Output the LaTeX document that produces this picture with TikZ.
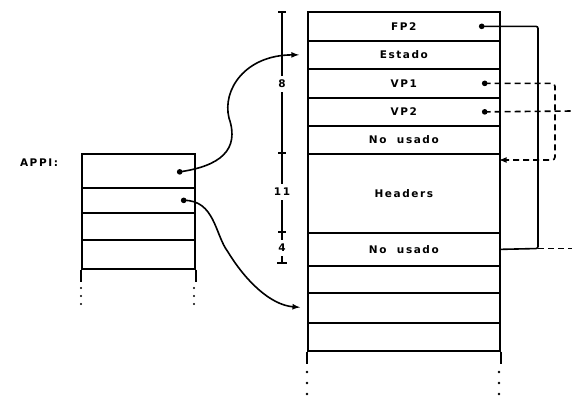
\documentclass[tikz,border=0pt]{standalone}
\usepackage{fontspec}
\newfontfamily\slotfont[LetterSpace=15]{DejaVu Sans Bold}
\tikzset{
  slot/.style={draw, line width=1.7pt, anchor=north west, inner sep=0pt,
    font=\slotfont\fontsize{10.5}{11}\selectfont},
  bigslot/.style={slot, minimum width=192pt},
  smallslot/.style={slot, minimum width=113pt},
  ptr/.style={circle, fill, inner sep=2pt},
  link/.style={line width=1.6pt},
  dashlink/.style={line width=1.6pt, dash pattern=on 6pt off 4pt},
  dimlabel/.style={inner sep=4pt, font=\slotfont\fontsize{10.5}{11}\selectfont},
}
\begin{document}
\begin{tikzpicture}[>=latex, x=1pt, y=-1pt]
    \useasboundingbox (0,0) rectangle (572,402);

    % Pila grande
    \node[bigslot, minimum height=29pt] (fp2) at (307,11) {FP2};
    \node[bigslot, minimum height=28pt] (estado) at (307,40) {Estado};
    \node[bigslot, minimum height=29pt] (vp1) at (307,68) {VP1};
    \node[bigslot, minimum height=28pt] (vp2) at (307,97) {VP2};
    \node[bigslot, minimum height=28pt] (nousadoA) at (307,125) {No\ \ usado};
    \node[bigslot, minimum height=79pt] (headers) at (307,153) {Headers};
    \node[bigslot, minimum height=33pt] (nousadoB) at (307,232) {No\ \ usado};
    \node[bigslot, minimum height=27pt] (libreA) at (307,265) {};
    \node[bigslot, minimum height=30pt] (libreB) at (307,292) {};
    \node[bigslot, minimum height=28pt] (libreC) at (307,322) {};
    \draw[line width=1.7pt] (libreC.south west) -- ++(0,12);
    \draw[line width=1.7pt] (libreC.south east) -- ++(0,12);
    \foreach \y in {372,383,394} {
        \fill (307,\y) circle (1.3pt);
        \fill (499,\y) circle (1.3pt);
    }

    % Pila APPI
    \node[dimlabel] (appi) at (39,163) {APPI:};
    \node[smallslot, minimum height=34pt] (appiA) at (81,153) {};
    \node[smallslot, minimum height=25pt] (appiB) at (81,187) {};
    \node[smallslot, minimum height=27pt] (appiC) at (81,212) {};
    \node[smallslot, minimum height=29pt] (appiD) at (81,239) {};
    \draw[line width=1.7pt] (appiD.south west) -- ++(0,12);
    \draw[line width=1.7pt] (appiD.south east) -- ++(0,12);
    \foreach \y in {288,296,304} {
        \fill (81,\y) circle (1.1pt);
        \fill (194,\y) circle (1.1pt);
    }

    % Punteros
    \node[ptr] (fp2p) at ([xshift=-19pt]fp2.east) {};
    \node[ptr] (vp1p) at ([xshift=-16pt]vp1.east) {};
    \node[ptr] (vp2p) at ([xshift=-16pt]vp2.east) {};
    \node[ptr] (appiAp) at ([xshift=-16pt, yshift=-1pt]appiA.east) {};
    \node[ptr] (appiBp) at ([xshift=-12pt]appiB.east) {};

    \coordinate (fpturn) at (538,248.5);
    \coordinate (fpout) at (572,248.5);
    \coordinate (vpturn) at (555,160);
    \coordinate (vp1in) at (499,160);
    \coordinate (vp2out) at (572,111);

    \draw[link, rounded corners=2pt] (fp2p.center) -| (fpturn) -- (nousadoB.east);
    \draw[dashlink] (fpturn) -- (fpout);
    \draw[dashlink, ->, rounded corners=3pt] (vp1p.center) -| (vpturn) -- (vp1in);
    \draw[dashlink] (vp2p.center) -- (vp2out);

    % Flechas curvas
    \draw[link, ->, shorten >=8pt] (appiAp.center)
        .. controls (220,166) and (240,150) .. (229,118)
        .. controls (222,90) and (245,55) .. (estado.west);
    \draw[link, ->, shorten >=7pt] (appiBp.center)
        .. controls (215,200) and (215,235) .. (228,252)
        .. controls (245,280) and (270,305) .. (libreB.west);

    % Cotas
    \coordinate (dtop) at (282,12);
    \coordinate (dbot) at (282,263);
    \node[dimlabel] (d8) at (282,84) {8};
    \node[dimlabel] (d11) at (282,192) {11};
    \node[dimlabel] (d4) at (282,248) {4};
    \draw[line width=1.7pt] (dtop) -- (d8) -- (d11) -- (d4);
    \draw[line width=1.7pt] (d4) -- (dbot);
    \draw[line width=1.7pt] (278,12) -- (286,12);
    \draw[line width=1.7pt] (278,153) -- (286,153);
    \draw[line width=1.7pt] (278,232) -- (286,232);
    \draw[line width=1.7pt] (277,263) -- (287,263);
\end{tikzpicture}
\end{document}
